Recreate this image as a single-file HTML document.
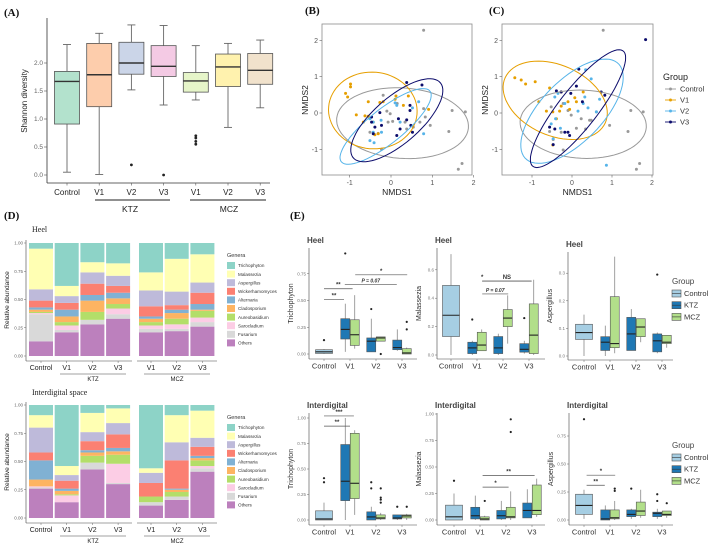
<!DOCTYPE html>
<html><head><meta charset="utf-8"><style>
html,body{margin:0;padding:0;background:#fff;}
svg{display:block;font-family:"Liberation Sans",sans-serif;}
.pl{font-family:"Liberation Serif",serif;font-weight:bold;font-size:11px;fill:#111;}
</style></head><body>
<svg id="fig" width="709" height="546" viewBox="0 0 709 546" xmlns="http://www.w3.org/2000/svg">
<rect x="0" y="0" width="709" height="546" fill="#fff"/>
<text class="pl" x="4" y="16">(A)</text>
<text class="pl" x="305" y="14">(B)</text>
<text class="pl" x="489" y="14">(C)</text>
<text class="pl" x="4" y="219">(D)</text>
<text class="pl" x="290" y="219">(E)</text>
<text x="32" y="232" font-family="Liberation Serif,serif" font-size="8" fill="#222">Heel</text>
<text x="32" y="395" font-family="Liberation Serif,serif" font-size="8" fill="#222">Interdigital space</text>
</svg>
<script>
const NS='http://www.w3.org/2000/svg';
const svg=document.getElementById('fig');
function el(tag,attrs,parent){const e=document.createElementNS(NS,tag);for(const k in attrs)e.setAttribute(k,attrs[k]);(parent||svg).appendChild(e);return e;}
function tx(x,y,s,attrs,parent){const e=el('text',Object.assign({x:x,y:y},attrs),parent);e.textContent=s;return e;}

/* ---------- Panel A data ---------- */
const aCats=['Control','V1','V2','V3','V1','V2','V3'];
const aMin=[0.05,0.01,1.52,1.25,1.34,0.85,1.20];
const aQ1=[0.91,1.22,1.80,1.76,1.48,1.58,1.62];
const aMed=[1.67,1.79,2.00,1.94,1.68,1.93,1.87];
const aQ3=[1.85,2.35,2.37,2.31,1.83,2.16,2.17];
const aMax=[2.33,2.53,2.68,2.67,2.31,2.35,2.41];
const aOut=[[],[],[0.18],[0],[0.55,0.60,0.66,0.70],[],[]];
const aTicks=[0,0.5,1.0,1.5,2.0];
const aFill=['#b3e2cd','#fdcdac','#cbd5e8','#f4cae4','#e6f5c9','#fff2ae','#f1e2cc'];

/* ---------- Panel B/C data ---------- */
const bCtrlX=[0.79,1.48,1.8,1.4,1.72,1.63,-0.1,-0.02,-0.07,0.04,0.34,0.38,0.7,0.83,0.95,-0.23,-0.51,-0.31,0.54,0.15,-0.19,0.79];
const bCtrlY=[2.28,0.07,0.03,-0.51,-1.39,-1.55,0.05,-0.02,-0.25,-0.23,-0.25,-0.44,-0.25,-0.11,-0.34,-1.0,-0.53,-0.56,-0.39,0.26,0.49,0.12];
const bV1X=[-0.98,-0.98,-1.1,-1.05,-0.55,-0.27,-0.19,0.12,0.42,0.3,0.91,-0.84,-0.63,-0.55,-0.67,-0.43,-0.39,-0.31,0.1];
const bV1Y=[0.8,0.72,0.54,0.44,0.31,0.29,0.31,0.47,0.47,0.21,0.1,-0.05,-0.08,-0.09,-0.25,-0.25,-0.6,-0.57,0.38];
const bV2X=[0.1,0.14,0.67,0.52,-0.24,-0.43,-0.43,-0.51,-0.41,-0.23,0.79,0.22,-0.51];
const bV2Y=[0.28,0.21,0.31,0.14,-0.2,-0.25,-0.53,-0.76,-0.82,-0.53,-0.57,-0.25,-0.16];
const bV3X=[0.38,0.75,-0.47,-0.27,-0.39,0.46,0.46,0.18,0.38,0.48,0.52,0.22,0.14,-0.43,-0.23,-0.47];
const bV3Y=[0.84,0.77,-0.11,0.01,-0.39,0.21,0.07,-0.16,-0.19,-0.34,-0.53,-0.44,-0.62,-0.57,-0.34,-0.25];
const cCtrlX=[0.78,1.47,1.78,1.4,1.69,1.61,-0.52,-0.22,-0.1,-0.02,0.23,0.44,0.61,0.94,0.34,0.11,-0.27,-0.56,-0.22,-0.47,0.48];
const cCtrlY=[2.28,0.07,0.03,-0.51,-1.39,-1.55,0.17,0.26,0.07,-0.06,-0.16,-0.2,0.03,-0.34,-0.44,-0.42,-0.53,-0.51,-1.02,-0.73,-0.2];
const cV1X=[-1.43,-1.27,-1.16,-0.92,-0.56,-0.83,-0.64,-0.48,-0.31,-0.27,-0.1,-0.06,0.07,0.11,0.28,-0.48,-0.39,-0.27];
const cV1Y=[0.97,0.91,0.8,0.86,0.69,0.31,0.05,0.03,0.05,0.19,0.31,0.1,0.42,0.31,0.58,-0.88,-0.16,0.58];
const cV2X=[0.34,0.48,-0.43,-0.35,-0.18,0.15,0.28,0.4,0.61,0.32,0.69,-0.52,-0.47,-0.29,0.86,-0.41];
const cV2Y=[1.19,0.94,0.44,0.54,0.26,0.05,0.26,0.14,0.03,0.44,0.38,-0.3,-0.71,-0.42,-1.44,-0.16];
const cV3X=[0.17,1.84,-0.39,-0.27,-0.03,0.11,0.26,0.73,0.82,-0.56,-0.43,-0.18,-0.1,-0.06,-0.47];
const cV3Y=[1.21,2.02,0.61,0.58,0.54,0.74,0.31,0.58,0.49,-0.39,-0.44,-0.53,-0.53,-0.62,-0.87];
const bEllipses=[[0.28,-0.28,1.6,0.97,-5],[-0.44,0.07,1.08,1.05,-30],[-0.13,-0.37,1.45,0.45,43],[0.14,-0.2,1.48,0.6,46]];
const cEllipses=[[0.28,-0.31,1.58,0.94,-3],[-0.42,0.35,1.4,0.95,-30],[0.0,0.05,1.75,0.8,50],[0.15,0.12,1.95,0.5,55]];
const nmdsGroups=['Control','V1','V2','V3'];
const nmdsTicks=[-1,0,1,2];

/* ---------- Panel D data ---------- */
const dCats=['Control','V1','V2','V3','V1','V2','V3'];
const genera=['Trichophyton','Malassezia','Aspergillus','Wickerhamomyces','Alternaria','Cladosporium','Aureobasidium','Sarocladium','Fusarium','Others'];
const genusColors=['#8dd3c7','#ffffb3','#bebada','#fb8072','#80b1d3','#fdb462','#b3de69','#fccde5','#d9d9d9','#bc80bd'];
const heelOthers=[.13,.21,.28,.33,.21,.22,.26];
const heelFusarium=[.24,.02,.04,.04,.03,.02,.04];
const heelSarocladium=[.01,.04,0,.05,.03,.04,.04];
const heelAureobasidium=[.01,.03,.07,.04,.03,.05,.06];
const heelCladosporium=[.02,.05,.10,.05,.03,.05,.01];
const heelAlternaria=[.02,.06,.05,.05,.02,.03,.05];
const heelWickerhamomyces=[.06,.06,.10,.06,.09,.04,.10];
const heelAspergillus=[.10,.06,.10,.09,.14,.12,.09];
const heelMalassezia=[.36,.09,.09,.11,.16,.29,.25];
const heelTrichophyton=[.05,.38,.17,.18,.26,.14,.10];
const idOthers=[.26,.14,.43,.30,.11,.16,.41];
const idFusarium=[.01,0,.06,.01,.03,.03,.03];
const idSarocladium=[.01,.06,0,.17,0,0,.02];
const idAureobasidium=[0,.01,.06,.08,.05,.04,.05];
const idCladosporium=[.06,.03,.03,.03,0,.02,.02];
const idAlternaria=[.17,.02,.02,.03,0,.01,.02];
const idWickerhamomyces=[.07,.07,.08,.12,.12,.25,.08];
const idAspergillus=[.22,.05,.08,.10,.09,.16,.08];
const idMalassezia=[.11,.08,.17,.13,.04,.24,.24];
const idTrichophyton=[.09,.54,.07,.03,.56,.09,.05];
const dTicks=[0,0.25,0.5,0.75,1.0];

/* ---------- Panel E data: [min,q1,median,q3,max] for Control,KTZ-V1,MCZ-V1,KTZ-V2,MCZ-V2,KTZ-V3,MCZ-V3 ---------- */
const eCats=['Control','V1','V2','V3'];
const heelTrichoStats=[[0,0.005,0.02,0.04,0.045],[0.02,0.14,0.23,0.33,0.47],[0.05,0.08,0.18,0.32,0.55],[0.02,0.02,0.12,0.15,0.33],[0.12,0.12,0.15,0.16,0.16],[0.03,0.04,0.06,0.13,0.23],[0,0,0.01,0.05,0.06]];
const heelTrichoOut=[[0.13],[0.94],[],[0.42],[0],[],[0.23,0.3]];
const heelTrichoTicks=[0,0.25,0.5,0.75];
const heelTrichoSig=[['**',0,0.77,0.51],['**',0,1.1,0.61],['P = 0.07',0.8,2.8,0.65],['*',1.2,3.2,0.74]];
const heelMalStats=[[0,0.13,0.28,0.49,0.71],[0,0.01,0.05,0.09,0.1],[0.03,0.03,0.07,0.16,0.18],[0,0.01,0.05,0.13,0.15],[0.08,0.2,0.26,0.32,0.42],[0.01,0.02,0.04,0.08,0.1],[0,0.01,0.14,0.36,0.53]];
const heelMalOut=[[],[0.25],[],[],[],[0.26],[]];
const heelMalTicks=[0,0.2,0.4,0.6];
const heelMalSig=[['P = 0.07',1.2,2.2,0.43],['*',1.2,3.1,0.52],['NS',1.2,3.1,0.52]];
const heelAspStats=[[0,0.06,0.085,0.115,0.15],[0,0.02,0.05,0.07,0.11],[0.01,0.03,0.045,0.215,0.36],[0.02,0.02,0.08,0.14,0.17],[0.05,0.07,0.105,0.135,0.135],[0.01,0.015,0.055,0.08,0.085],[0.03,0.045,0.05,0.075,0.075]];
const heelAspOut=[[],[],[],[],[],[0.295],[]];
const heelAspTicks=[0,0.1,0.2,0.3];
const heelAspSig=[];
const idTrichoStats=[[0,0,0.01,0.09,0.17],[0,0.19,0.38,0.74,1.0],[0.05,0.21,0.36,0.85,0.88],[0,0,0.03,0.08,0.13],[0,0.01,0.02,0.05,0.07],[0,0.01,0.02,0.05,0.05],[0,0.02,0.04,0.05,0.06]];
const idTrichoOut=[[0.37,0.41],[],[],[0.31,0.37],[0.17,0.2,0.22,0.31],[0.13],[0.13]];
const idTrichoTicks=[0,0.25,0.5,0.75,1.0];
const idTrichoSig=[['**',0,1,0.92],['***',0,1.15,1.02]];
const idMalStats=[[0,0,0.03,0.14,0.25],[0,0.01,0.04,0.12,0.23],[0,0,0.01,0.03,0.04],[0,0.01,0.04,0.09,0.18],[0,0.02,0.03,0.12,0.27],[0.02,0.02,0.09,0.16,0.29],[0.03,0.05,0.09,0.33,0.39]];
const idMalOut=[[0.37],[],[0.18],[],[0.83,0.95],[],[]];
const idMalTicks=[0,0.25,0.5,0.75,1.0];
const idMalSig=[['*',1.1,2.1,0.31],['**',1.1,3.1,0.42]];
const idAspStats=[[0.01,0.05,0.13,0.23,0.27],[0,0,0.01,0.09,0.13],[0,0.01,0.02,0.09,0.17],[0.01,0.03,0.05,0.09,0.1],[0.02,0.04,0.08,0.16,0.27],[0.01,0.03,0.06,0.07,0.1],[0.02,0.04,0.05,0.08,0.08]];
const idAspOut=[[0.9],[],[0.26,0.28],[0.28],[],[0.17,0.23],[0.15]];
const idAspTicks=[0,0.25,0.5,0.75];
const idAspSig=[['**',0.1,0.8,0.31],['*',0.1,1.2,0.40]];

/* ================= Panel A ================= */
(function(){
  const g=el('g',{});
  
  
  const X=i=>67+i*32.2, Y=v=>175-v*56;
  const ya=el('line',{x1:47,y1:18,x2:47,y2:183,stroke:'#333','stroke-width':0.8},g);
  
  
  const xa=el('line',{x1:47,y1:183,x2:270,y2:183,stroke:'#333','stroke-width':0.8},g);
  
  
  aTicks.forEach(t=>{
    el('line',{x1:44,x2:47,y1:Y(t),y2:Y(t),stroke:'#555','stroke-width':0.6},g);
    const l=tx(43,Y(t)+2.2,t.toFixed(1),{'text-anchor':'end','font-size':6.5,fill:'#666'},g);
    
    
  });
  const yt=tx(0,0,'Shannon diversity',{'text-anchor':'middle','font-size':8,fill:'#222',transform:'translate(27,101) rotate(-90)'},g);
  
  
  aCats.forEach((c,i)=>{
    const x=X(i);
    el('line',{x1:x,x2:x,y1:Y(aMax[i]),y2:Y(aMin[i]),stroke:'#666','stroke-width':0.9},g);
    el('line',{x1:x-4,x2:x+4,y1:Y(aMax[i]),y2:Y(aMax[i]),stroke:'#666','stroke-width':0.9},g);
    el('line',{x1:x-4,x2:x+4,y1:Y(aMin[i]),y2:Y(aMin[i]),stroke:'#666','stroke-width':0.9},g);
    const b=el('rect',{x:x-12.5,y:Y(aQ3[i]),width:25,height:Y(aQ1[i])-Y(aQ3[i]),fill:aFill[i],stroke:'#555','stroke-width':0.8},g);
    
    
    el('line',{x1:x-12.5,x2:x+12.5,y1:Y(aMed[i]),y2:Y(aMed[i]),stroke:'#333','stroke-width':1.4},g);
    aOut[i].forEach(o=>{
      const p=el('circle',{cx:x,cy:Y(o),r:1.4,fill:'#222'},g);
      
      
    });
    el('line',{x1:x,x2:x,y1:183,y2:185.5,stroke:'#555','stroke-width':0.6},g);
    const l=tx(x,195,c,{'text-anchor':'middle','font-size':8,fill:'#222'},g);
    
    
  });
  el('line',{x1:95,x2:170,y1:200,y2:200,stroke:'#222','stroke-width':0.9},g);
  el('line',{x1:190,x2:266,y1:200,y2:200,stroke:'#222','stroke-width':0.9},g);
  const k=tx(130,212,'KTZ',{'text-anchor':'middle','font-size':8.5,fill:'#222'},g);
  
  
  const m=tx(229,212,'MCZ',{'text-anchor':'middle','font-size':8.5,fill:'#222'},g);
  
  
})();

/* ================= Panels B & C ================= */
const nmdsColors=['#999999','#E69F00','#56B4E9','#0b0b6b'];
function drawNMDS(name,left,right,x0,kx,sets,ells){
  const g=el('g',{});
  
  
  const X=v=>x0+v*kx, Y=v=>113-v*36.3;
  const fr=el('rect',{x:left,y:24,width:right-left,height:151,fill:'#fff',stroke:'#8c8c8c','stroke-width':0.8},g);
  
  
  nmdsTicks.forEach(t=>{
    el('line',{x1:left-2.5,x2:left,y1:Y(t),y2:Y(t),stroke:'#666','stroke-width':0.6},g);
    const ly=tx(left-4,Y(t)+2.5,String(t),{'text-anchor':'end','font-size':7,fill:'#555'},g);
    
    
    el('line',{x1:X(t),x2:X(t),y1:175,y2:177.5,stroke:'#666','stroke-width':0.6},g);
    const lx=tx(X(t),185,String(t),{'text-anchor':'middle','font-size':7,fill:'#555'},g);
    
    
  });
  const xt=tx((left+right)/2,195,'NMDS1',{'text-anchor':'middle','font-size':8.5,fill:'#222'},g);
  
  
  const yt=tx(0,0,'NMDS2',{'text-anchor':'middle','font-size':8.5,fill:'#222',transform:'translate('+(left-14)+',100) rotate(-90)'},g);
  
  
  sets.forEach((s,gi)=>{
    s[0].forEach((vx,j)=>{
      const p=el('circle',{cx:X(vx),cy:Y(s[1][j]),r:1.5,fill:nmdsColors[gi]},g);
      
      
    });
  });
  ells.forEach((e,gi)=>{
    const th=e[4]*Math.PI/180;let d='';
    for(let i=0;i<=72;i++){const t=i/72*2*Math.PI;
      const dx=e[2]*Math.cos(t)*Math.cos(th)-e[3]*Math.sin(t)*Math.sin(th);
      const dy=e[2]*Math.cos(t)*Math.sin(th)+e[3]*Math.sin(t)*Math.cos(th);
      d+=(i?'L':'M')+X(e[0]+dx).toFixed(1)+','+Y(e[1]+dy).toFixed(1);}
    const p=el('path',{d:d+'Z',fill:'none',stroke:nmdsColors[gi],'stroke-width':1},g);
    
    
  });
}
drawNMDS('nmds-plot-b',322,472,391,41.3,[[bCtrlX,bCtrlY],[bV1X,bV1Y],[bV2X,bV2Y],[bV3X,bV3Y]],bEllipses);
drawNMDS('nmds-plot-c',502,653,572,40,[[cCtrlX,cCtrlY],[cV1X,cV1Y],[cV2X,cV2Y],[cV3X,cV3Y]],cEllipses);
(function(){
  const g=el('g',{});
  
  
  const t=tx(663,80,'Group',{'font-size':9,fill:'#222'},g);
  
  
  nmdsGroups.forEach((n,i)=>{
    const y=89+i*11;
    el('line',{x1:665,x2:676,y1:y,y2:y,stroke:nmdsColors[i],'stroke-width':0.9},g);
    el('circle',{cx:670.5,cy:y,r:1.5,fill:nmdsColors[i]},g);
    const l=tx(680,y+2.6,n,{'font-size':7.5,fill:'#333'},g);
    
    
  });
})();

/* ================= Panel D ================= */
function drawStack(name,y0,series){
  const g=el('g',{});
  
  
  const Y=v=>y0-v*113;
  const bx=i=>i<4?29+i*25.7:139+(i-4)*25.7;
  const axisY=y0+5;
  el('line',{x1:26,x2:26,y1:Y(1)-3,y2:axisY,stroke:'#444','stroke-width':0.6},g);
  el('line',{x1:26,x2:132,y1:axisY,y2:axisY,stroke:'#444','stroke-width':0.6},g);
  el('line',{x1:137,x2:217,y1:axisY,y2:axisY,stroke:'#444','stroke-width':0.6},g);
  dTicks.forEach(t=>{
    el('line',{x1:24,x2:26,y1:Y(t),y2:Y(t),stroke:'#666','stroke-width':0.5},g);
    const l=tx(23,Y(t)+1.5,t.toFixed(2),{'text-anchor':'end','font-size':4.5,fill:'#666'},g);
    
    
  });
  const yt=tx(0,0,'Relative abundance',{'text-anchor':'middle','font-size':6.5,fill:'#222',transform:'translate(9,'+(y0-56)+') rotate(-90)'},g);
  
  
  dCats.forEach((c,i)=>{
    let cum=0;
    for(let s=series.length-1;s>=0;s--){
      const v=series[s][i];
      const r=el('rect',{x:bx(i),y:Y(cum+v),width:24,height:Math.max(0,Y(cum)-Y(cum+v)),fill:genusColors[s]},g);
      
      
      cum+=v;
    }
    el('line',{x1:bx(i)+12,x2:bx(i)+12,y1:axisY,y2:axisY+2,stroke:'#666','stroke-width':0.5},g);
    const l=tx(bx(i)+12,axisY+9,c,{'text-anchor':'middle','font-size':7,fill:'#222'},g);
    
    
  });
  el('line',{x1:60,x2:126,y1:axisY+13,y2:axisY+13,stroke:'#444','stroke-width':0.6},g);
  el('line',{x1:144,x2:210,y1:axisY+13,y2:axisY+13,stroke:'#444','stroke-width':0.6},g);
  const k=tx(93,axisY+20,'KTZ',{'text-anchor':'middle','font-size':6,fill:'#222'},g);
  
  
  const m=tx(177,axisY+20,'MCZ',{'text-anchor':'middle','font-size':6,fill:'#222'},g);
  
  
}
drawStack('heel-stacked-bars',356,[heelTrichophyton,heelMalassezia,heelAspergillus,heelWickerhamomyces,heelAlternaria,heelCladosporium,heelAureobasidium,heelSarocladium,heelFusarium,heelOthers]);
drawStack('interdigital-stacked-bars',518,[idTrichophyton,idMalassezia,idAspergillus,idWickerhamomyces,idAlternaria,idCladosporium,idAureobasidium,idSarocladium,idFusarium,idOthers]);
function drawGenusLegend(name,y){
  const g=el('g',{});
  
  
  const t=tx(227,y,'Genera',{'font-size':5.5,fill:'#333'},g);
  
  
  genera.forEach((n,i)=>{
    const yy=y+5+i*8.6;
    el('rect',{x:227,y:yy,width:8,height:7,fill:genusColors[i]},g);
    const l=tx(238,yy+5.2,n,{'font-size':4.6,fill:'#333'},g);
    
    
  });
}
drawGenusLegend('genera-legend-heel',257);
drawGenusLegend('genera-legend-interdigital',419);

/* ================= Panel E ================= */
const eFill=['#a6cee3','#1f78b4','#b2df8a'];
function drawBox(name,title,ylab,ax,right,top,bottom,y0,k,c0,stats,outs,ticks,sigs,dec){
  const g=el('g',{});
  
  
  const Y=v=>y0-v*k, C=i=>c0+i*26;
  const tt=tx(ax-2,top-5,title,{'font-size':8,'font-weight':'bold',fill:'#444'},g);
  
  
  el('line',{x1:ax,x2:ax,y1:top,y2:bottom,stroke:'#444','stroke-width':0.6},g);
  el('line',{x1:ax,x2:right,y1:bottom,y2:bottom,stroke:'#444','stroke-width':0.6},g);
  ticks.forEach(t=>{
    el('line',{x1:ax-2,x2:ax,y1:Y(t),y2:Y(t),stroke:'#666','stroke-width':0.5},g);
    const l=tx(ax-3,Y(t)+1.5,t.toFixed(dec),{'text-anchor':'end','font-size':4.5,fill:'#777'},g);
    
    
  });
  const yt=tx(0,0,ylab,{'text-anchor':'middle','font-size':7,fill:'#333',transform:'translate('+(ax-16)+','+((top+bottom)/2)+') rotate(-90)'},g);
  
  
  eCats.forEach((c,i)=>{
    el('line',{x1:C(i),x2:C(i),y1:bottom,y2:bottom+2,stroke:'#666','stroke-width':0.5},g);
    const l=tx(C(i),bottom+9.5,c,{'text-anchor':'middle','font-size':7.5,fill:'#333'},g);
    
    
  });
  stats.forEach((s,i)=>{
    const grp=i===0?0:Math.ceil(i/2);
    const cx=i===0?C(0):C(grp)+(i%2===1?-4.75:4.75);
    const w=i===0?17:9;
    const col=i===0?eFill[0]:(i%2===1?eFill[1]:eFill[2]);
    el('line',{x1:cx,x2:cx,y1:Y(s[4]),y2:Y(s[0]),stroke:'#777','stroke-width':0.7},g);
    const b=el('rect',{x:cx-w/2,y:Y(s[3]),width:w,height:Math.max(0.5,Y(s[1])-Y(s[3])),fill:col,stroke:'#555','stroke-width':0.6},g);
    
    
    el('line',{x1:cx-w/2,x2:cx+w/2,y1:Y(s[2]),y2:Y(s[2]),stroke:'#222','stroke-width':1.1},g);
    outs[i].forEach(o=>{
      const p=el('circle',{cx:cx,cy:Y(o),r:1.1,fill:'#222'},g);
      
      
    });
  });
  sigs.forEach(s=>{
    const x1=C(s[1]),x2=C(s[2]),y=Y(s[3]);
    el('line',{x1:x1,x2:x2,y1:y,y2:y,stroke:'#555','stroke-width':0.7},g);
    const lx=s[0]==='*'&&sigs.length===3?x1:(s[0]==='NS'?(x1+x2)/2:(x1+x2)/2);
    const l=tx(lx,y-2,s[0],{'text-anchor':'middle','font-size':s[0].length>3?5:6,'font-weight':'bold','font-style':s[0].length>3?'italic':'normal',fill:'#333'},g);
    
    
  });
}
drawBox('heel-trichophyton-boxplot','Heel','Trichophyton',309,417,248,359,354,107,324,heelTrichoStats,heelTrichoOut,heelTrichoTicks,heelTrichoSig,2);
drawBox('heel-malassezia-boxplot','Heel','Malassezia',437,545,248,359,355,142,451,heelMalStats,heelMalOut,heelMalTicks,heelMalSig,1);
drawBox('heel-aspergillus-boxplot','Heel','Aspergillus',568,673,252,360,356,276,584,heelAspStats,heelAspOut,heelAspTicks,heelAspSig,1);
drawBox('interdigital-trichophyton-boxplot','Interdigital','Trichophyton',309,417,413,525,520,102,324,idTrichoStats,idTrichoOut,idTrichoTicks,idTrichoSig,2);
drawBox('interdigital-malassezia-boxplot','Interdigital','Malassezia',437,545,413,525,520,106,454,idMalStats,idMalOut,idMalTicks,idMalSig,2);
drawBox('interdigital-aspergillus-boxplot','Interdigital','Aspergillus',569,673,413,525,520,112,584,idAspStats,idAspOut,idAspTicks,idAspSig,2);
function drawGroupLegend(name,y){
  const g=el('g',{});
  
  
  const t=tx(672,y,'Group',{'font-size':8,fill:'#444'},g);
  
  
  ['Control','KTZ','MCZ'].forEach((n,i)=>{
    const yy=y+6+i*11.7;
    el('rect',{x:672,y:yy,width:9,height:7,fill:eFill[i],stroke:'#555','stroke-width':0.6},g);
    el('line',{x1:672,x2:681,y1:yy+3.5,y2:yy+3.5,stroke:'#333','stroke-width':0.6},g);
    const l=tx(684,yy+6,n,{'font-size':7.5,fill:'#333'},g);
    
    
  });
}
drawGroupLegend('group-legend-heel',284);
drawGroupLegend('group-legend-interdigital',448);
</script>
</body></html>
